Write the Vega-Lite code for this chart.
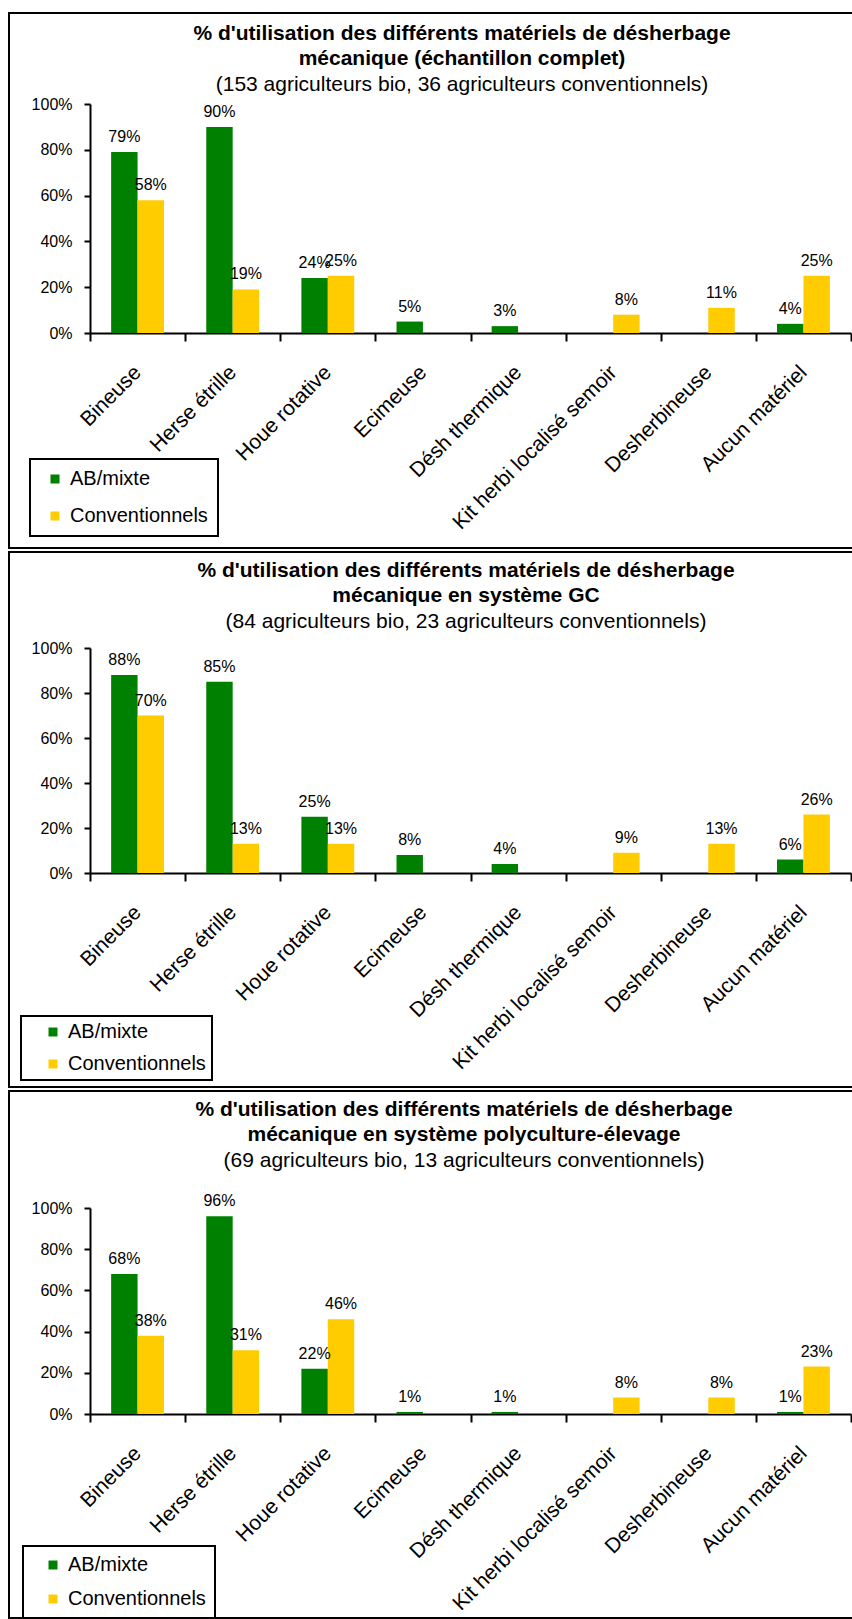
{
  "$schema": "https://vega.github.io/schema/vega-lite/v6.json",
  "padding": {"left": 0, "top": 12, "right": 0, "bottom": 0},
  "spacing": 2,
  "background": "white",
  "datasets": {
    "complet": [
      {"cat": "Bineuse", "grp": "AB/mixte", "v": 0.79},
      {"cat": "Herse étrille", "grp": "AB/mixte", "v": 0.90},
      {"cat": "Houe rotative", "grp": "AB/mixte", "v": 0.24},
      {"cat": "Ecimeuse", "grp": "AB/mixte", "v": 0.05},
      {"cat": "Désh thermique", "grp": "AB/mixte", "v": 0.03},
      {"cat": "Kit herbi localisé semoir", "grp": "AB/mixte", "v": 0},
      {"cat": "Desherbineuse", "grp": "AB/mixte", "v": 0},
      {"cat": "Aucun matériel", "grp": "AB/mixte", "v": 0.04},
      {"cat": "Bineuse", "grp": "Conventionnels", "v": 0.58},
      {"cat": "Herse étrille", "grp": "Conventionnels", "v": 0.19},
      {"cat": "Houe rotative", "grp": "Conventionnels", "v": 0.25},
      {"cat": "Ecimeuse", "grp": "Conventionnels", "v": 0},
      {"cat": "Désh thermique", "grp": "Conventionnels", "v": 0},
      {"cat": "Kit herbi localisé semoir", "grp": "Conventionnels", "v": 0.08},
      {"cat": "Desherbineuse", "grp": "Conventionnels", "v": 0.11},
      {"cat": "Aucun matériel", "grp": "Conventionnels", "v": 0.25}
    ],
    "gc": [
      {"cat": "Bineuse", "grp": "AB/mixte", "v": 0.88},
      {"cat": "Herse étrille", "grp": "AB/mixte", "v": 0.85},
      {"cat": "Houe rotative", "grp": "AB/mixte", "v": 0.25},
      {"cat": "Ecimeuse", "grp": "AB/mixte", "v": 0.08},
      {"cat": "Désh thermique", "grp": "AB/mixte", "v": 0.04},
      {"cat": "Kit herbi localisé semoir", "grp": "AB/mixte", "v": 0},
      {"cat": "Desherbineuse", "grp": "AB/mixte", "v": 0},
      {"cat": "Aucun matériel", "grp": "AB/mixte", "v": 0.06},
      {"cat": "Bineuse", "grp": "Conventionnels", "v": 0.70},
      {"cat": "Herse étrille", "grp": "Conventionnels", "v": 0.13},
      {"cat": "Houe rotative", "grp": "Conventionnels", "v": 0.13},
      {"cat": "Ecimeuse", "grp": "Conventionnels", "v": 0},
      {"cat": "Désh thermique", "grp": "Conventionnels", "v": 0},
      {"cat": "Kit herbi localisé semoir", "grp": "Conventionnels", "v": 0.09},
      {"cat": "Desherbineuse", "grp": "Conventionnels", "v": 0.13},
      {"cat": "Aucun matériel", "grp": "Conventionnels", "v": 0.26}
    ],
    "pe": [
      {"cat": "Bineuse", "grp": "AB/mixte", "v": 0.68},
      {"cat": "Herse étrille", "grp": "AB/mixte", "v": 0.96},
      {"cat": "Houe rotative", "grp": "AB/mixte", "v": 0.22},
      {"cat": "Ecimeuse", "grp": "AB/mixte", "v": 0.01},
      {"cat": "Désh thermique", "grp": "AB/mixte", "v": 0.01},
      {"cat": "Kit herbi localisé semoir", "grp": "AB/mixte", "v": 0},
      {"cat": "Desherbineuse", "grp": "AB/mixte", "v": 0},
      {"cat": "Aucun matériel", "grp": "AB/mixte", "v": 0.01},
      {"cat": "Bineuse", "grp": "Conventionnels", "v": 0.38},
      {"cat": "Herse étrille", "grp": "Conventionnels", "v": 0.31},
      {"cat": "Houe rotative", "grp": "Conventionnels", "v": 0.46},
      {"cat": "Ecimeuse", "grp": "Conventionnels", "v": 0},
      {"cat": "Désh thermique", "grp": "Conventionnels", "v": 0},
      {"cat": "Kit herbi localisé semoir", "grp": "Conventionnels", "v": 0.08},
      {"cat": "Desherbineuse", "grp": "Conventionnels", "v": 0.08},
      {"cat": "Aucun matériel", "grp": "Conventionnels", "v": 0.23}
    ]
  },
  "resolve": {
    "scale": {"x": "independent", "y": "independent", "fill": "independent", "xOffset": "independent"},
    "legend": {"fill": "independent"}
  },
  "vconcat": [
    {
      "width": 846, "height": 535,
      "data": {"name": "complet"},
      "title": {
        "text": ["% d'utilisation des différents matériels de désherbage", "mécanique (échantillon complet)"],
        "subtitle": "(153 agriculteurs bio, 36 agriculteurs conventionnels)",
        "offset": -82, "dx": 30
      },
      "encoding": {
        "x": {"field": "cat", "type": "nominal", "sort": ["Bineuse", "Herse étrille", "Houe rotative", "Ecimeuse", "Désh thermique", "Kit herbi localisé semoir", "Desherbineuse", "Aucun matériel"],
          "scale": {"range": [81, 842], "paddingInner": 0, "paddingOuter": 0},
          "axis": {"title": null, "offset": -215, "labelAngle": -45, "labelAlign": "right", "labelBaseline": "middle", "labelFontSize": 21, "labelPadding": 28, "labelLimit": 400, "labelOverlap": false, "tickSize": 8, "tickBand": "extent"}},
        "xOffset": {"field": "grp", "type": "nominal", "sort": ["AB/mixte", "Conventionnels"], "scale": {"paddingInner": 0, "paddingOuter": 0.8}},
        "y": {"field": "v", "type": "quantitative",
          "scale": {"domain": [0, 1], "range": [320, 91], "nice": false},
          "axis": {"title": null, "offset": -81, "values": [0, 0.2, 0.4, 0.6, 0.8, 1], "format": ".0%", "labelFontSize": 16, "labelPadding": 12, "tickSize": 6}}
      },
      "layer": [
        {"mark": {"type": "bar"},
         "encoding": {"fill": {"field": "grp", "type": "nominal",
           "scale": {"domain": ["AB/mixte", "Conventionnels"], "range": ["#008000", "#FFCC00"]},
           "legend": {"orient": "none", "legendX": 21, "legendY": 446, "title": null, "padding": 10, "rowPadding": 17, "symbolOffset": 5}}}},
        {"transform": [{"filter": "datum.v > 0"}],
         "mark": {"type": "text", "baseline": "alphabetic", "dy": -10, "fontSize": 16},
         "encoding": {"text": {"field": "v", "type": "quantitative", "format": ".0%"}}}
      ]
    },
    {
      "width": 846, "height": 535,
      "data": {"name": "gc"},
      "title": {
        "text": ["% d'utilisation des différents matériels de désherbage", "mécanique en système GC"],
        "subtitle": "(84 agriculteurs bio, 23 agriculteurs conventionnels)",
        "offset": -80, "dx": 34
      },
      "encoding": {
        "x": {"field": "cat", "type": "nominal", "sort": ["Bineuse", "Herse étrille", "Houe rotative", "Ecimeuse", "Désh thermique", "Kit herbi localisé semoir", "Desherbineuse", "Aucun matériel"],
          "scale": {"range": [81, 842], "paddingInner": 0, "paddingOuter": 0},
          "axis": {"title": null, "offset": -214, "labelAngle": -45, "labelAlign": "right", "labelBaseline": "middle", "labelFontSize": 21, "labelPadding": 28, "labelLimit": 400, "labelOverlap": false, "tickSize": 8, "tickBand": "extent"}},
        "xOffset": {"field": "grp", "type": "nominal", "sort": ["AB/mixte", "Conventionnels"], "scale": {"paddingInner": 0, "paddingOuter": 0.8}},
        "y": {"field": "v", "type": "quantitative",
          "scale": {"domain": [0, 1], "range": [321, 96], "nice": false},
          "axis": {"title": null, "offset": -81, "values": [0, 0.2, 0.4, 0.6, 0.8, 1], "format": ".0%", "labelFontSize": 16, "labelPadding": 12, "tickSize": 6}}
      },
      "layer": [
        {"mark": {"type": "bar"},
         "encoding": {"fill": {"field": "grp", "type": "nominal",
           "scale": {"domain": ["AB/mixte", "Conventionnels"], "range": ["#008000", "#FFCC00"]},
           "legend": {"orient": "none", "legendX": 12, "legendY": 464, "title": null, "padding": 6, "rowPadding": 12, "symbolOffset": 16}}}},
        {"transform": [{"filter": "datum.v > 0"}],
         "mark": {"type": "text", "baseline": "alphabetic", "dy": -10, "fontSize": 16},
         "encoding": {"text": {"field": "v", "type": "quantitative", "format": ".0%"}}}
      ]
    },
    {
      "width": 846, "height": 527,
      "data": {"name": "pe"},
      "title": {
        "text": ["% d'utilisation des différents matériels de désherbage", "mécanique en système polyculture-élevage"],
        "subtitle": "(69 agriculteurs bio, 13 agriculteurs conventionnels)",
        "offset": -80, "dx": 32
      },
      "encoding": {
        "x": {"field": "cat", "type": "nominal", "sort": ["Bineuse", "Herse étrille", "Houe rotative", "Ecimeuse", "Désh thermique", "Kit herbi localisé semoir", "Desherbineuse", "Aucun matériel"],
          "scale": {"range": [81, 842], "paddingInner": 0, "paddingOuter": 0},
          "axis": {"title": null, "offset": -204, "labelAngle": -45, "labelAlign": "right", "labelBaseline": "middle", "labelFontSize": 21, "labelPadding": 28, "labelLimit": 400, "labelOverlap": false, "tickSize": 8, "tickBand": "extent"}},
        "xOffset": {"field": "grp", "type": "nominal", "sort": ["AB/mixte", "Conventionnels"], "scale": {"paddingInner": 0, "paddingOuter": 0.8}},
        "y": {"field": "v", "type": "quantitative",
          "scale": {"domain": [0, 1], "range": [323, 117], "nice": false},
          "axis": {"title": null, "offset": -81, "values": [0, 0.2, 0.4, 0.6, 0.8, 1], "format": ".0%", "labelFontSize": 16, "labelPadding": 12, "tickSize": 6}}
      },
      "layer": [
        {"mark": {"type": "bar"},
         "encoding": {"fill": {"field": "grp", "type": "nominal",
           "scale": {"domain": ["AB/mixte", "Conventionnels"], "range": ["#008000", "#FFCC00"]},
           "legend": {"orient": "none", "legendX": 14, "legendY": 455, "title": null, "padding": 9, "rowPadding": 14, "symbolOffset": 11}}}},
        {"transform": [{"filter": "datum.v > 0"}],
         "mark": {"type": "text", "baseline": "alphabetic", "dy": -10, "fontSize": 16},
         "encoding": {"text": {"field": "v", "type": "quantitative", "format": ".0%"}}}
      ]
    }
  ],
  "config": {
    "font": "Liberation Sans",
    "view": {"stroke": "black", "strokeWidth": 2, "fill": "white"},
    "axis": {"grid": false, "domainColor": "black", "domainWidth": 2, "tickColor": "black", "tickWidth": 2, "labelColor": "black", "labelFont": "Liberation Sans"},
    "title": {"anchor": "middle", "frame": "group", "font": "Liberation Sans", "fontSize": 21, "fontWeight": "bold", "color": "black", "lineHeight": 25,
      "subtitleFont": "Liberation Sans", "subtitleFontSize": 21, "subtitleFontWeight": "normal", "subtitleColor": "black", "subtitleLineHeight": 25, "subtitlePadding": 5},
    "legend": {"symbolType": "square", "symbolSize": 81, "symbolStrokeWidth": 0, "labelFontSize": 20, "labelFont": "Liberation Sans", "labelColor": "black", "labelOffset": 5, "strokeColor": "black", "strokeWidth": 2, "fillColor": "white"},
    "text": {"font": "Liberation Sans", "color": "black"}
  }
}
